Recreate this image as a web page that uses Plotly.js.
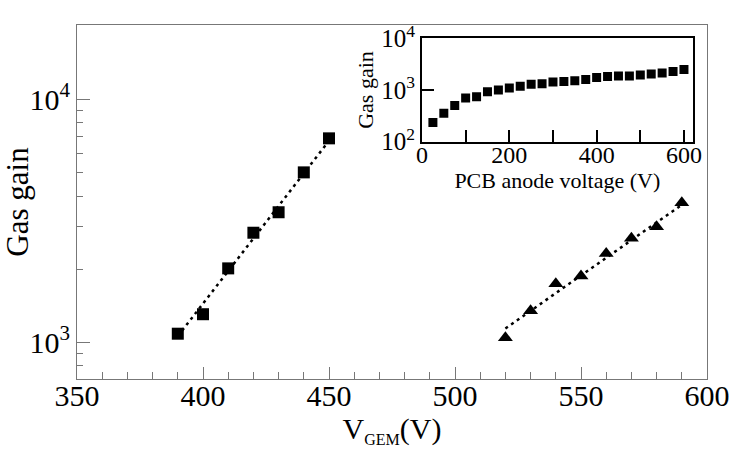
<!DOCTYPE html>
<html>
<head>
<meta charset="utf-8">
<script src="https://cdn.plot.ly/plotly-3.0.1.min.js"></script>
<style>html,body{margin:0;padding:0;background:#fff;}#chart{width:747px;height:467px;}</style>
</head>
<body>
<div id="chart"></div>
<script>
// Main plot: gas gain vs GEM voltage
const squareV = [390, 400, 410, 420, 430, 440, 450];
const squareGain = [1085, 1305, 2015, 2825, 3430, 5005, 6910];
const squareFitV = [390, 450];
const squareFitGain = [1060, 6750];

const triV = [520, 530, 540, 550, 560, 570, 580, 590];
const triGain = [1045, 1350, 1740, 1875, 2320, 2680, 2990, 3750];
const triFitV = [520, 590];
const triFitGain = [1140, 3680];

// Inset: gas gain vs PCB anode voltage
const pcbV = [25, 50, 75, 100, 125, 150, 175, 200, 225, 250, 275, 300, 325, 350, 375, 400, 425, 450, 475, 500, 525, 550, 575, 600];
const pcbGain = [235, 356, 500, 702, 744, 929, 1000, 1093, 1177, 1286, 1324, 1425, 1469, 1514, 1604, 1754, 1833, 1858, 1858, 1943, 2031, 2124, 2286, 2496];

const mainXTicks = [350, 400, 450, 500, 550, 600];
const mainYTicks = [1000, 10000];
const mainYTickText = ['10<sup>3</sup>', '10<sup>4</sup>'];
const mainYMinor = [800, 900, 2000, 3000, 4000, 5000, 6000, 7000, 8000, 9000];
const insetXTicks = [0, 200, 400, 600];
const insetYTicks = [100, 1000, 10000];
const insetYTickText = ['10<sup>2</sup>', '10<sup>3</sup>', '10<sup>4</sup>'];

const FONT = 'Liberation Serif';

const traces = [
  {x: squareFitV, y: squareFitGain, mode: 'lines', line: {color: '#000', width: 2.5, dash: '3px,4px'}, xaxis: 'x', yaxis: 'y', hoverinfo: 'skip'},
  {x: triFitV, y: triFitGain, mode: 'lines', line: {color: '#000', width: 2.5, dash: '3px,4px'}, xaxis: 'x', yaxis: 'y', hoverinfo: 'skip'},
  {x: squareV, y: squareGain, mode: 'markers', marker: {symbol: 'square', size: 12, color: '#000'}, xaxis: 'x', yaxis: 'y'},
  {x: triV, y: triGain, mode: 'markers', marker: {symbol: 'triangle-up', size: 13, color: '#000'}, xaxis: 'x', yaxis: 'y'},
  {x: pcbV, y: pcbGain, mode: 'markers', marker: {symbol: 'square', size: 9, color: '#000'}, xaxis: 'x2', yaxis: 'y2'}
];

const layout = {
  width: 747, height: 467,
  margin: {l: 77, r: 40, t: 25, b: 88},
  paper_bgcolor: '#fff', plot_bgcolor: '#fff',
  showlegend: false,
  font: {family: FONT, color: '#000'},
  xaxis: {
    domain: [0, 1], range: [350, 600],
    tickmode: 'array', tickvals: mainXTicks, ticks: 'inside', ticklen: 12, tickwidth: 1, tickcolor: '#777',
    minor: {dtick: 10, ticks: 'inside', ticklen: 7, tickwidth: 1, tickcolor: '#777'},
    showline: true, mirror: true, linecolor: '#777', linewidth: 1,
    showgrid: false, zeroline: false,
    tickfont: {family: FONT, size: 30, color: '#000'},
    ticklabelstandoff: -10,
    title: {text: 'V<sub><span style="font-size:16px">GEM</span></sub>(V)', font: {family: FONT, size: 30, color: '#000'}, standoff: 0},
    automargin: false
  },
  yaxis: {
    domain: [0, 1], type: 'log', range: [2.849, 4.306],
    tickmode: 'array', tickvals: mainYTicks, ticktext: mainYTickText, ticks: 'inside', ticklen: 13, tickwidth: 1, tickcolor: '#777',
    minor: {tickmode: 'array', tickvals: mainYMinor, ticks: 'inside', ticklen: 6, tickwidth: 1, tickcolor: '#777'},
    showline: true, mirror: true, linecolor: '#777', linewidth: 1,
    showgrid: false, zeroline: false,
    tickfont: {family: FONT, size: 30, color: '#000'},
    title: {text: 'Gas gain', font: {family: FONT, size: 31, color: '#000'}, standoff: 0},
    automargin: false
  },
  xaxis2: {
    domain: [0.5476, 0.9773], range: [0, 620], anchor: 'y2',
    tickmode: 'array', tickvals: insetXTicks, ticks: 'inside', ticklen: 12, tickwidth: 2, tickcolor: '#000',
    minor: {dtick: 100, ticks: 'inside', ticklen: 12, tickwidth: 2, tickcolor: '#000'},
    showline: true, mirror: true, linecolor: '#000', linewidth: 2,
    showgrid: false, zeroline: false,
    tickfont: {family: FONT, size: 24, color: '#000'},
    ticklabelstandoff: -10,
    title: {text: 'PCB anode voltage (V)', font: {family: FONT, size: 22, color: '#000'}, standoff: 0},
    automargin: false
  },
  yaxis2: {
    domain: [0.6703, 0.9624], type: 'log', range: [2, 4], anchor: 'x2',
    tickmode: 'array', tickvals: insetYTicks, ticktext: insetYTickText, ticks: 'inside', ticklen: 12, tickwidth: 2, tickcolor: '#000',
    showline: true, mirror: true, linecolor: '#000', linewidth: 2,
    showgrid: false, zeroline: false,
    tickfont: {family: FONT, size: 25, color: '#000'},
    title: {text: 'Gas gain', font: {family: FONT, size: 22, color: '#000'}, standoff: 2},
    automargin: false
  }
};

Plotly.newPlot('chart', traces, layout, {displayModeBar: false, staticPlot: true});
</script>
</body>
</html>
